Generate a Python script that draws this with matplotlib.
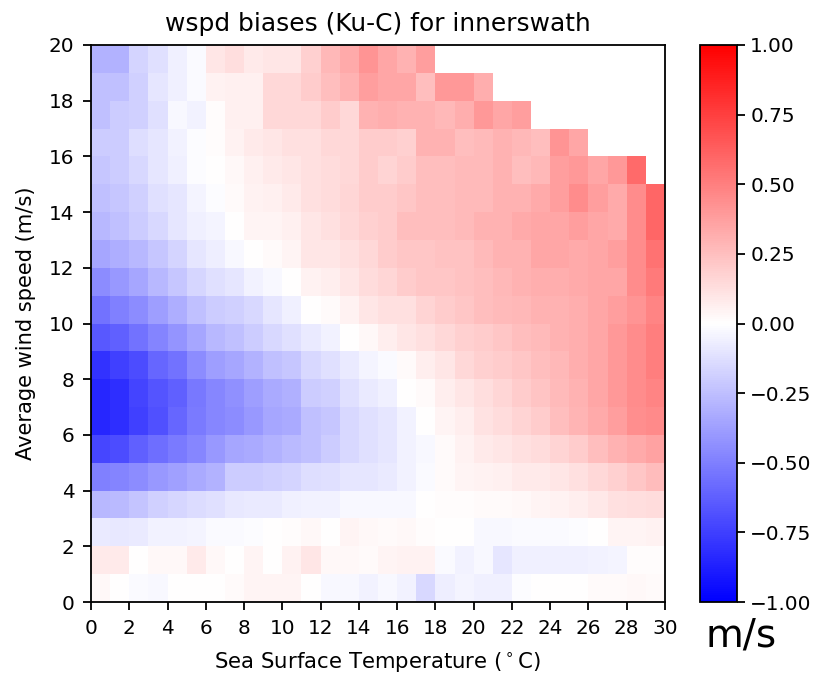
import numpy as np
import matplotlib
matplotlib.use("Agg")
import matplotlib.pyplot as plt

sst_edges = np.arange(0, 31, 1)
wind_edges = np.arange(0, 21, 1)

# rows: wind speed bins 0-1 ... 19-20 ; columns: SST bins 0-1 ... 29-30
row00 = [0.03, 0.0, -0.02, -0.03, 0.0, 0.0, 0.0, 0.02, 0.04, 0.04, 0.04, 0.0, -0.03, -0.03, -0.05, -0.03, -0.05, -0.15, -0.07, -0.04, -0.06, -0.06, -0.01, 0.0, 0.0, 0.0, 0.02, 0.02, 0.03, 0.02]
row01 = [0.08, 0.08, 0.0, 0.03, 0.03, 0.08, 0.03, 0.0, 0.04, 0.0, 0.05, 0.1, 0.03, 0.03, 0.02, 0.04, 0.05, 0.05, -0.02, -0.05, -0.03, -0.1, -0.06, -0.06, -0.06, -0.06, -0.05, -0.04, 0.01, 0.01]
row02 = [-0.08, -0.09, -0.08, -0.05, -0.05, -0.04, -0.02, -0.02, -0.01, 0.0, 0.01, 0.03, 0.0, 0.04, 0.03, 0.02, 0.03, 0.01, 0.0, 0.0, -0.03, -0.03, -0.02, -0.02, -0.02, -0.01, 0.0, 0.04, 0.04, 0.05]
row03 = [-0.28, -0.27, -0.23, -0.18, -0.16, -0.14, -0.12, -0.09, -0.08, -0.08, -0.06, -0.05, -0.05, -0.03, -0.03, -0.03, -0.03, 0.0, 0.01, 0.01, 0.02, 0.02, 0.03, 0.04, 0.05, 0.07, 0.09, 0.12, 0.13, 0.14]
row04 = [-0.5, -0.48, -0.45, -0.4, -0.37, -0.33, -0.3, -0.2, -0.2, -0.18, -0.17, -0.13, -0.12, -0.1, -0.1, -0.08, -0.05, -0.02, 0.02, 0.04, 0.05, 0.06, 0.08, 0.08, 0.1, 0.12, 0.15, 0.18, 0.22, 0.26]
row05 = [-0.72, -0.7, -0.62, -0.57, -0.52, -0.47, -0.4, -0.35, -0.33, -0.3, -0.27, -0.25, -0.2, -0.15, -0.12, -0.1, -0.05, -0.03, 0.02, 0.05, 0.08, 0.1, 0.12, 0.14, 0.17, 0.2, 0.25, 0.3, 0.33, 0.36]
row06 = [-0.85, -0.82, -0.75, -0.68, -0.6, -0.52, -0.47, -0.45, -0.4, -0.35, -0.33, -0.25, -0.22, -0.15, -0.12, -0.1, -0.05, 0.0, 0.04, 0.07, 0.11, 0.14, 0.17, 0.2, 0.25, 0.29, 0.33, 0.38, 0.44, 0.46]
row07 = [-0.85, -0.82, -0.73, -0.67, -0.62, -0.53, -0.47, -0.43, -0.38, -0.33, -0.31, -0.2, -0.18, -0.12, -0.08, -0.06, 0.0, 0.02, 0.07, 0.1, 0.13, 0.16, 0.2, 0.23, 0.27, 0.3, 0.35, 0.4, 0.45, 0.48]
row08 = [-0.8, -0.75, -0.7, -0.6, -0.55, -0.45, -0.38, -0.35, -0.3, -0.25, -0.22, -0.15, -0.12, -0.08, -0.04, -0.02, 0.02, 0.07, 0.1, 0.15, 0.18, 0.2, 0.22, 0.25, 0.28, 0.32, 0.35, 0.4, 0.45, 0.5]
row09 = [-0.65, -0.62, -0.55, -0.48, -0.42, -0.35, -0.28, -0.25, -0.2, -0.15, -0.12, -0.08, -0.05, 0.0, 0.03, 0.07, 0.1, 0.12, 0.15, 0.18, 0.2, 0.22, 0.25, 0.27, 0.3, 0.32, 0.35, 0.4, 0.45, 0.5]
row10 = [-0.55, -0.5, -0.45, -0.38, -0.32, -0.25, -0.2, -0.18, -0.15, -0.1, -0.06, 0.0, 0.02, 0.05, 0.1, 0.12, 0.12, 0.17, 0.2, 0.22, 0.25, 0.27, 0.28, 0.3, 0.3, 0.32, 0.35, 0.38, 0.42, 0.48]
row11 = [-0.45, -0.4, -0.35, -0.28, -0.22, -0.16, -0.12, -0.1, -0.05, -0.03, 0.0, 0.05, 0.07, 0.1, 0.14, 0.16, 0.2, 0.22, 0.22, 0.24, 0.25, 0.28, 0.3, 0.32, 0.32, 0.33, 0.35, 0.35, 0.45, 0.52]
row12 = [-0.35, -0.32, -0.28, -0.22, -0.17, -0.1, -0.07, -0.03, 0.0, 0.02, 0.04, 0.1, 0.1, 0.12, 0.15, 0.2, 0.22, 0.22, 0.24, 0.24, 0.27, 0.3, 0.3, 0.35, 0.35, 0.33, 0.35, 0.38, 0.45, 0.55]
row13 = [-0.28, -0.25, -0.2, -0.15, -0.1, -0.06, -0.04, 0.0, 0.04, 0.04, 0.06, 0.1, 0.12, 0.15, 0.18, 0.2, 0.25, 0.25, 0.25, 0.27, 0.3, 0.3, 0.33, 0.35, 0.35, 0.38, 0.35, 0.33, 0.45, 0.6]
row14 = [-0.25, -0.22, -0.18, -0.12, -0.1, -0.04, -0.01, 0.02, 0.05, 0.06, 0.08, 0.12, 0.14, 0.16, 0.2, 0.2, 0.22, 0.25, 0.25, 0.27, 0.27, 0.3, 0.3, 0.33, 0.38, 0.45, 0.38, 0.33, 0.45, 0.6]
row15 = [-0.22, -0.2, -0.15, -0.1, -0.06, -0.01, 0.0, 0.03, 0.06, 0.08, 0.1, 0.12, 0.14, 0.15, 0.2, 0.17, 0.2, 0.25, 0.25, 0.27, 0.27, 0.3, 0.25, 0.28, 0.38, 0.4, 0.35, 0.4, 0.58, np.nan]
row16 = [-0.2, -0.2, -0.13, -0.1, -0.05, -0.01, 0.01, 0.05, 0.08, 0.1, 0.12, 0.12, 0.15, 0.15, 0.2, 0.2, 0.18, 0.3, 0.3, 0.25, 0.27, 0.3, 0.28, 0.25, 0.42, 0.35, np.nan, np.nan, np.nan, np.nan]
row17 = [-0.25, -0.2, -0.18, -0.12, -0.03, -0.05, 0.01, 0.06, 0.06, 0.15, 0.15, 0.15, 0.2, 0.15, 0.3, 0.32, 0.3, 0.3, 0.28, 0.32, 0.4, 0.35, 0.38, np.nan, np.nan, np.nan, np.nan, np.nan, np.nan, np.nan]
row18 = [-0.25, -0.25, -0.18, -0.1, -0.06, -0.02, 0.05, 0.06, 0.06, 0.15, 0.15, 0.2, 0.25, 0.3, 0.38, 0.35, 0.35, 0.25, 0.4, 0.4, 0.32, np.nan, np.nan, np.nan, np.nan, np.nan, np.nan, np.nan, np.nan, np.nan]
row19 = [-0.3, -0.3, -0.17, -0.12, -0.06, -0.02, 0.1, 0.13, 0.08, 0.1, 0.1, 0.18, 0.28, 0.33, 0.42, 0.35, 0.3, 0.38, np.nan, np.nan, np.nan, np.nan, np.nan, np.nan, np.nan, np.nan, np.nan, np.nan, np.nan, np.nan]

bias = np.ma.masked_invalid(np.array([row00, row01, row02, row03, row04, row05, row06, row07, row08, row09,
                                      row10, row11, row12, row13, row14, row15, row16, row17, row18, row19]))

W, H = 815, 677
fig = plt.figure(figsize=(W / 100, H / 100), dpi=100)
ax = fig.add_axes([91/W, 1-602/H, (665-91)/W, (602-45)/H])
cax = fig.add_axes([700/W, 1-602/H, 37/W, (602-45)/H])

mesh = ax.pcolormesh(sst_edges, wind_edges, bias, cmap='bwr', vmin=-1, vmax=1)
ax.set_xlim(0, 30)
ax.set_ylim(0, 20)
ax.set_xticks(np.arange(0, 31, 2))
ax.set_yticks(np.arange(0, 21, 2))
ax.tick_params(labelsize=14.4, length=6, width=1.3, pad=6)
for s in ax.spines.values():
    s.set_linewidth(1.3)
xl = ax.set_xlabel(r'Sea Surface Temperature ($^\circ$C)', fontsize=15, labelpad=9)
yl = ax.set_ylabel('Average wind speed (m/s)', fontsize=15, labelpad=9)
tt = ax.set_title('wspd biases (Ku-C) for innerswath', fontsize=16, pad=10)

cb = fig.colorbar(mesh, cax=cax)
cb.set_ticks(np.arange(-1, 1.01, 0.25))
cb.ax.tick_params(labelsize=14.4, length=6, width=1.3)
cb.outline.set_linewidth(1.3)
fig.text(741/W, 1-636/H, 'm/s', fontsize=28, ha='center', va='center')

# fit label sizes to the reference text extents (pixels)
fig.canvas.draw()
r = fig.canvas.get_renderer()
for t, target, horiz in [(tt, 427, True), (xl, 327, True), (yl, 275, False)]:
    bb = t.get_window_extent(r)
    cur = bb.width if horiz else bb.height
    t.set_fontsize(t.get_fontsize() * target / cur)

fig.savefig('out.png', dpi=100)
